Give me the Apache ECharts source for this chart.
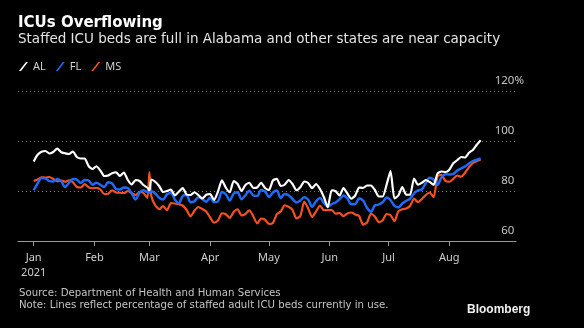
<!DOCTYPE html>
<html>
<head>
<meta charset="utf-8">
<script src="https://cdn.jsdelivr.net/npm/echarts@6/dist/echarts.min.js"></script>
<style>
html,body{margin:0;padding:0;background:#000;}
#c{width:584px;height:328px;}
</style>
</head>
<body>
<div id="c"></div>
<script>
const titleText = 'ICUs Overflowing';
const subtitleText = 'Staffed ICU beds are full in Alabama and other states are near capacity';
const sourceText = 'Source: Department of Health and Human Services';
const noteText = 'Note: Lines reflect percentage of staffed adult ICU beds currently in use.';
const seriesNames = ['AL', 'FL', 'MS'];
const monthNames = ['Jan','Feb','Mar','Apr','May','Jun','Jul','Aug','Sep','Oct','Nov','Dec'];
const yTicks = [60, 80, 100, 120];
const lastTickDate = '2021-08-01';
// axis spans 2020-12-24 (day -8) .. 2021-09-03 (day 246), day 0 = 2021-01-01
const axisFirstDay = -8;
const axisLastDay = 246;

// sample days (days since 2021-01-01)
const sampleDay = [0,2,4,6,8,10,12,14,16,18,20,22,24,26,28,30,32,34,36,38,40,42,44,46,48,50,52,54,56,58,59,60,62,64,66,68,70,72,74,76,78,80,82,84,86,88,90,92,94,96,98,100,102,104,106,108,110,112,114,116,118,120,122,124,126,128,130,132,134,136,138,140,142,144,146,148,150,152,154,156,158,160,162,164,166,168,170,172,174,176,178,180,182,184,186,188,190,192,194,196,198,200,202,204,206,208,210,212,214,216,218,220,222,224,226,228];

const alValues = [91.8,94.5,95.7,96,95,95.6,97,95.5,95.1,94.8,95.8,93.6,93,93,90,88.8,89.9,88.2,86,86.2,87.1,87.5,86,87.4,84.4,82.6,84.4,84,82.4,81.3,80.3,84.6,83.7,82,79.6,80,80.6,78.2,79.7,81.2,78.6,78.4,79.5,78.4,77,78.5,78.8,76.4,79.8,84.3,81.3,79.5,84,82.8,80,82.4,83.3,81.2,81.4,83.3,81.2,80.4,84.2,84.9,82,82.5,84.4,82.8,80.3,81.5,83.8,83.2,81.1,82.8,80.8,77.6,73.5,80.3,79.9,78.2,81.2,79,76.9,78.2,81.4,81.2,82.2,82.2,80.4,77.8,77.8,82.5,88,77,78.2,81.6,78.5,78.5,85,82.5,83.3,84.4,83.6,82.5,87,87.8,87.6,88.5,91.1,92.3,93.6,93.4,95.3,96.4,98.5,100.3];

const flValues = [80.3,83,85.2,85,84,83.8,84.8,83.9,81.6,83.3,84.8,84.6,83.2,84.4,84.2,82.5,83.3,82.5,81.6,83.5,83,80.8,80.6,81.4,81.2,79.1,76.6,79.4,80.3,79.5,79.3,80,79,77.3,76.6,78.7,79.2,76.6,75.1,78,78.4,75.5,75.9,77.5,76.8,75.7,77.3,75.5,75.8,79.6,78.7,76.2,79,79.5,76.7,78.3,80.1,78.2,78,80.4,79.8,77.6,79.4,80.2,77.2,78.8,78.3,76.8,75.4,76.2,77.5,76.6,73.7,75.9,77.2,75.2,73.7,74.8,75.4,76.7,78.2,77,74.7,74.8,77,76.2,73.3,71.7,74.2,74.6,75.5,77.4,76.4,74.1,73.4,75,76.1,76.9,79,80.3,80.6,83.2,85.3,84.5,82.5,85.5,86.7,86.6,86.8,88.2,89,89.8,91,92,92.5,93];

const msValues = [84,84.6,85.5,85.4,85.6,84.8,83.9,84.2,83.7,84.3,83.5,81.6,81.4,82.8,81.5,81.1,81.3,80.6,78.8,78.9,80.3,79.4,79.3,79.2,80,79.1,78.4,79.6,79.2,77.2,87.6,78,74.3,72.7,74,72.3,75.2,75,74.7,74.2,72.4,69.8,72.1,73.6,72.8,71.8,69.4,67.3,68.2,71.1,70.7,69.2,71.6,72.7,70.2,70.8,72.3,69.9,67,69,68.5,66.8,67.2,70.7,71.8,74.3,73.7,72.5,69,70,75.8,73,69.6,71.8,74.2,72.3,72.4,72.4,70.9,71.2,69.9,71,71.4,70.6,70,66.5,67.4,70.9,69.8,67.5,68.3,70.8,70.3,67.9,71.9,72.7,73,74.1,77,75.5,76.8,78.4,79.4,77.5,85.8,86.5,84,83.7,84.8,86.2,85.7,87.3,89.5,91.2,92,92.6];

// build daily category list for the axis
const categories = [];
for (let d = axisFirstDay; d <= axisLastDay; d++) {
  const dt = new Date(Date.UTC(2021, 0, 1 + d));
  const mm = String(dt.getUTCMonth() + 1).padStart(2, '0');
  const dd = String(dt.getUTCDate()).padStart(2, '0');
  categories.push(dt.getUTCFullYear() + '-' + mm + '-' + dd);
}
function pairs(vals) {
  return sampleDay.map((d, i) => [d - axisFirstDay, vals[i]]);
}
const isMonthStart = (idx, val) => typeof val === 'string' && val.slice(8) === '01' && val <= lastTickDate;

const FONT = '"Noto Sans", "Open Sans", sans-serif';
const TFONT = '"DejaVu Sans", "Noto Sans", sans-serif';
const slash = 'path://M0,9L7,0L9,0L2,9Z';
const colors = { AL: '#ffffff', FL: '#1f6bff', MS: '#f4511e' };
const yLabelStyle = { color: '#c4c4c4', fontSize: 11.5, fontFamily: FONT };

const chart = echarts.init(document.getElementById('c'), null, { renderer: 'canvas' });
chart.setOption({
  backgroundColor: '#000',
  animation: false,
  textStyle: { fontFamily: FONT },
  grid: { left: 18, right: 68, top: 91, height: 150, containLabel: false },
  legend: {
    left: 19, top: 61, padding: 0,
    itemWidth: 9, itemHeight: 9, itemGap: 10,
    textStyle: { color: '#d0d0d0', fontSize: 11, fontFamily: FONT },
    data: seriesNames.map(n => ({ name: n, icon: slash, itemStyle: { color: colors[n] } }))
  },
  xAxis: {
    type: 'category',
    data: categories,
    boundaryGap: false,
    axisLine: { lineStyle: { color: '#9a9a9a', width: 1 } },
    axisTick: { show: true, interval: isMonthStart, length: 5, lineStyle: { color: '#9a9a9a' } },
    axisLabel: {
      interval: isMonthStart,
      color: '#cfcfcf', fontSize: 11, margin: 10, lineHeight: 14.5, fontFamily: FONT,
      formatter: (v) => {
        const m = parseInt(v.slice(5, 7), 10) - 1;
        return m === 0 ? monthNames[m] + '\n' + v.slice(0, 4) : monthNames[m];
      }
    },
    splitLine: { show: false }
  },
  yAxis: {
    type: 'value',
    position: 'right',
    min: yTicks[0], max: yTicks[yTicks.length - 1], interval: 20,
    axisLine: { show: false },
    axisTick: { show: false },
    axisLabel: {
      inside: true, margin: -8, verticalAlign: 'bottom', padding: [0, 0, 4, 0],
      color: '#c4c4c4', fontSize: 11.5, fontFamily: FONT,
      formatter: (v) => '{n|' + v + '}' + (v === 120 ? '{p|%}' : '{h|%}'),
      rich: {
        n: Object.assign({}, yLabelStyle),
        p: Object.assign({}, yLabelStyle),
        h: Object.assign({}, yLabelStyle, { color: 'rgba(0,0,0,0)' })
      }
    },
    splitLine: { show: true, lineStyle: { color: '#7a7a7a', width: 1, type: [1, 3] } }
  },
  series: [
    { name: 'MS', type: 'line', data: pairs(msValues), symbol: 'none', smooth: 0.2,
      lineStyle: { color: colors.MS, width: 2.2 }, itemStyle: { color: colors.MS } },
    { name: 'FL', type: 'line', data: pairs(flValues), symbol: 'none', smooth: 0.3,
      lineStyle: { color: colors.FL, width: 2.4 }, itemStyle: { color: colors.FL } },
    { name: 'AL', type: 'line', data: pairs(alValues), symbol: 'none', smooth: 0.2,
      lineStyle: { color: colors.AL, width: 2.2 }, itemStyle: { color: colors.AL } }
  ],
  graphic: [
    { type: 'text', x: 18, y: 23, style: { text: titleText, font: 'bold 15px ' + TFONT, fill: '#ffffff', verticalAlign: 'middle' } },
    { type: 'text', x: 18, y: 39, style: { text: subtitleText, font: '13.5px ' + TFONT, fill: '#e4e4e4', verticalAlign: 'middle' } },
    { type: 'text', x: 19, y: 293, style: { text: sourceText, font: '10.2px ' + TFONT, fill: '#c4c4c4', verticalAlign: 'middle' } },
    { type: 'text', x: 19, y: 305, style: { text: noteText, font: '10.2px ' + TFONT, fill: '#c4c4c4', verticalAlign: 'middle' } },
    { type: 'text', x: 467, y: 310, style: { text: 'Bloomberg', font: 'bold 12px "Liberation Sans", Arial, sans-serif', fill: '#f0f0f0', verticalAlign: 'middle' } }
  ]
});
</script>
</body>
</html>
